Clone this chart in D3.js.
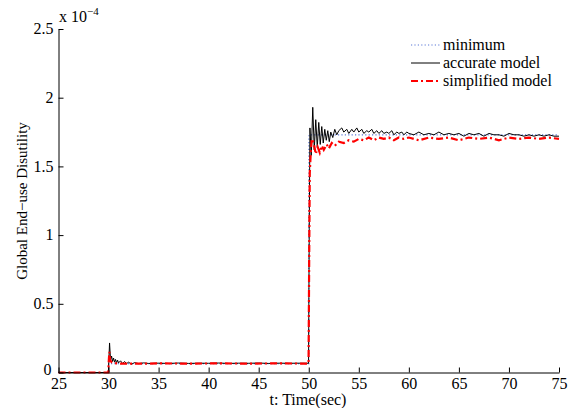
<!DOCTYPE html>
<html><head><meta charset="utf-8">
<script src="https://cdn.jsdelivr.net/npm/d3@7"></script>
<style>body{margin:0;background:#fff}svg{display:block}svg text{font-family:"Liberation Serif","Times New Roman","DejaVu Serif",serif !important;fill:#000}</style>
</head><body><svg id="c" width="582" height="408" font-family="Liberation Serif"></svg>
<script>
// ---- data (values in units of 1e-4) ----
const xTicks = [25,30,35,40,45,50,55,60,65,70,75];
const yTicks = [0,0.5,1,1.5,2,2.5];
const yTickLabels = ["0","0.5","1","1.5","2","2.5"];
const seriesNames = ["minimum","accurate model","simplified model"];

const minT = [25,30,30.02,50,50.02,75];
const minV = [0,0,0.065,0.065,1.73,1.73];

const accT = [25,29.98,30.02,30.1,30.2,30.3,30.4,30.5,30.6,30.7,30.8,30.9,31.0,31.2,31.4,31.6,31.8,32.0,32.3,32.6,33,33.5,34,35,36,37,38,39,40,41,42,43,44,45,46,47,48,49,49.98,
  50.05,50.12,50.25,50.4,50.55,50.7,50.85,51.0,51.15,51.3,51.45,51.6,51.75,51.9,52.05,52.2,52.4,52.6,52.8,
  53,53.3,53.5,53.8,54,54.3,54.5,54.8,55,55.3,55.5,55.8,56,56.3,56.5,56.8,57,57.3,57.5,57.8,58,58.3,58.5,58.8,59,59.3,59.5,59.8,60,
  60.5,61,61.5,62,62.5,63,63.5,64,64.5,65,65.5,66,66.5,67,67.5,68,68.5,69,69.5,70,70.5,71,71.5,72,72.5,73,73.5,74,74.5,75];
const accV = [0,0,0.07,0.215,0.09,0.12,0.08,0.105,0.075,0.095,0.07,0.09,0.07,0.085,0.065,0.08,0.065,0.075,0.06,0.072,0.065,0.07,0.066,0.068,0.066,0.069,0.066,0.068,0.067,0.069,0.066,0.068,0.067,0.069,0.066,0.068,0.067,0.068,0.067,
  1.05,1.78,1.58,1.93,1.62,1.84,1.64,1.82,1.66,1.79,1.67,1.77,1.69,1.76,1.68,1.75,1.71,1.77,1.73,
  1.76,1.78,1.75,1.77,1.74,1.77,1.75,1.78,1.75,1.77,1.74,1.76,1.75,1.77,1.74,1.76,1.74,1.76,1.74,1.75,1.74,1.76,1.73,1.75,1.74,1.75,1.73,1.75,1.74,
  1.73,1.75,1.73,1.74,1.73,1.75,1.73,1.74,1.73,1.74,1.72,1.74,1.73,1.74,1.72,1.74,1.73,1.73,1.72,1.74,1.73,1.73,1.72,1.73,1.72,1.73,1.72,1.73,1.72,1.72];

const simT = [25,29.98,30.02,30.08,30.15,30.3,30.5,30.8,31.2,32,33,35,38,41,44,47,49.98,
  50.05,50.1,50.2,50.3,50.5,50.7,50.9,51.1,51.3,51.5,51.8,52.0,52.3,52.6,53,53.5,54,54.5,55,
  55.5,56,56.5,57,57.5,58,58.5,59,59.5,60,61,62,63,64,65,66,67,68,69,70,71,72,73,74,75];
const simV = [0,0,0.08,0.15,0.09,0.075,0.07,0.066,0.064,0.065,0.064,0.066,0.065,0.066,0.065,0.066,0.065,
  0.9,1.45,1.60,1.70,1.67,1.59,1.64,1.60,1.65,1.62,1.66,1.63,1.67,1.65,1.68,1.67,1.69,1.68,1.70,
  1.69,1.71,1.69,1.71,1.70,1.71,1.69,1.71,1.70,1.71,1.69,1.71,1.70,1.71,1.69,1.71,1.70,1.71,1.69,1.71,1.70,1.71,1.70,1.71,1.70];

// ---- drawing ----
const FONT = "'Liberation Serif','Times New Roman',serif";
const svg = d3.select("#c");
svg.append("rect").attr("width",582).attr("height",408).attr("fill","#fff");
const x = d3.scaleLinear().domain([25,75]).range([58.5,559]);
const y = d3.scaleLinear().domain([0,2.5]).range([372.5,29]);

const line = d3.line().x(d=>x(d[0])).y(d=>y(d[1]));
const zip = (a,b)=>a.map((t,i)=>[t,b[i]]);

const styles = [
  {color:"#5a78d6", w:1.2, dash:"1.2,2.2"},
  {color:"#000", w:1, dash:null},
  {color:"#ff0000", w:2.2, dash:"7,3,2,3"}
];
const data = [zip(minT,minV), zip(accT,accV), zip(simT,simV)];
data.forEach((d,i)=>{
  svg.append("path").attr("d",line(d)).attr("fill","none")
    .attr("stroke",styles[i].color).attr("stroke-width",styles[i].w)
    .attr("stroke-dasharray",styles[i].dash);
});

// axes
const gx = svg.append("g").attr("transform","translate(0,372.5)")
  .call(d3.axisBottom(x).tickValues(xTicks).tickSizeInner(-5).tickSizeOuter(0).tickPadding(6).tickFormat(d3.format("d")));
const gy = svg.append("g").attr("transform","translate(58.5,0)")
  .call(d3.axisLeft(y).tickValues(yTicks).tickSizeInner(-5).tickSizeOuter(0).tickPadding(5).tickFormat((d,i)=>yTickLabels[i]));
[gx,gy].forEach(g=>{
  g.attr("font-family",FONT).attr("font-size",16);
  g.selectAll("path,line").attr("stroke","#000").attr("stroke-width",1);
  g.selectAll("text").attr("font-family",FONT).attr("font-size",16).attr("fill","#000");
});
gx.selectAll("text").attr("y",4).attr("dy","0.75em");
gy.selectAll("text").attr("dy",(d)=> d===0 ? "0.1em" : "0.3em").attr("dx",(d)=> d===0 ? "-2" : "0");

// exponent
const ex = svg.append("text").attr("x",59).attr("y",22).attr("font-family",FONT).attr("font-size",16);
ex.append("tspan").text("x 10");
ex.append("tspan").attr("dy",-7).attr("font-size",11).text("\u22124");

// axis titles
svg.append("text").attr("x",308).attr("y",405).attr("text-anchor","middle").attr("font-family",FONT).attr("font-size",16).text("t: Time(sec)");
svg.append("text").attr("transform","translate(27,201) rotate(-90)").attr("text-anchor","middle").attr("font-family",FONT).attr("font-size",15).text("Global End\u2212use Disutility");

// legend
const ly = [45,63,81];
seriesNames.forEach((n,i)=>{
  svg.append("line").attr("x1",411).attr("x2",440).attr("y1",ly[i]).attr("y2",ly[i])
    .attr("stroke",styles[i].color).attr("stroke-width",styles[i].w).attr("stroke-dasharray",styles[i].dash);
  svg.append("text").attr("x",443).attr("y",ly[i]+5).attr("font-family",FONT).attr("font-size",16).text(n);
});
</script></body></html>
